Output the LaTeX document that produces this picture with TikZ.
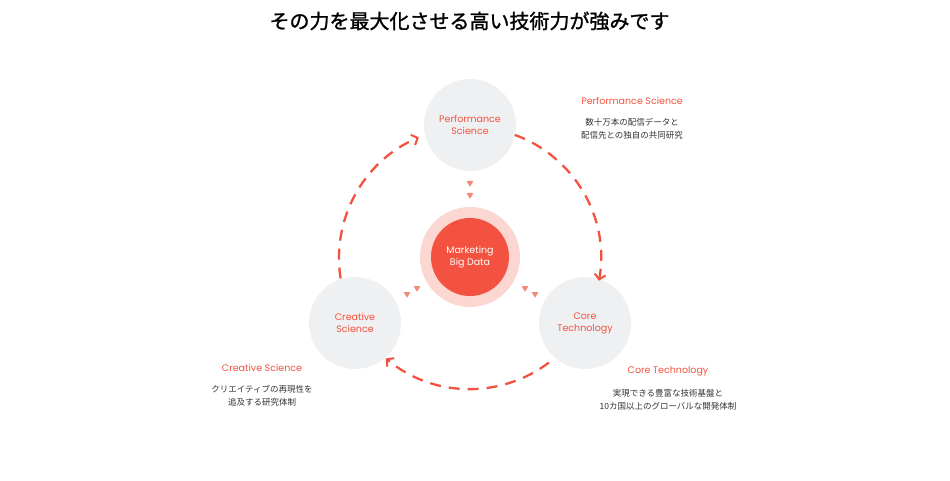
\documentclass[tikz,border=0pt]{standalone}
\usepackage{fontspec}
\setmainfont{Poppins}
\newfontfamily\jp{Noto Sans CJK JP}
\newfontfamily\jpt[FakeBold=1.2]{Noto Sans CJK JP}
\usetikzlibrary{arrows.meta,calc,shapes.geometric}
\definecolor{accent}{HTML}{F2523F}
\definecolor{ring}{HTML}{FCD6D0}
\definecolor{bub}{HTML}{EFF0F1}
\definecolor{txt}{HTML}{333333}
\definecolor{tri}{HTML}{F28A7C}
\tikzset{
  bubble/.style={circle, fill=bub, minimum size=92pt, inner sep=0pt, align=center, text=accent, font=\fontsize{9.5}{12}\selectfont},
  core/.style={circle, fill=accent, minimum size=78pt, inner sep=0pt, align=center, text=white, font=\fontsize{9.5}{12}\selectfont},
  halo/.style={circle, fill=ring, minimum size=100pt, inner sep=0pt},
  flow/.style={accent, line width=2.3pt, dash pattern=on 11pt off 8pt, -{Straight Barb[length=5pt,width=11pt,line width=2pt]}},
  heading/.style={text=accent, font=\fontsize{9.5}{12}\selectfont, inner sep=0pt},
  desc/.style={text=txt, align=center, font=\jp\fontsize{8.5}{13}\selectfont, inner sep=0pt},
  pip/.style={regular polygon, regular polygon sides=3, shape border rotate=180, fill=tri, minimum size=8pt, inner sep=0pt, rounded corners=0.8pt},
}
\begin{document}
\begin{tikzpicture}[x=1pt,y=-1pt]
\useasboundingbox (0,0) rectangle (950,481);
\node[font=\jpt\fontsize{20}{24}\selectfont, text=black, inner sep=0pt] (title) at (469.5,21) {その力を最大化させる高い技術力が強みです};

\coordinate (C) at (470,258);
\node[halo] (halo) at (470,257) {};
\node[core] (mbd) at (470,257) {Marketing\\Big Data};
\node[bubble] (perf) at (470,125) {Performance\\Science};
\node[bubble] (crea) at (355,323) {Creative\\Science};
\node[bubble] (tech) at (585,323) {Core\\Technology};

\node[pip] (p1) at (470,183) {};
\node[pip] (p2) at (470,195) {};
\node[pip] (p3) at (407,294) {};
\node[pip] (p4) at (417,288) {};
\node[pip] (p5) at (525,288) {};
\node[pip] (p6) at (535,294) {};

\coordinate (a1s) at ($(C)+(171:131)$);
\coordinate (a2s) at ($(C)+(290:131)$);
\coordinate (a3s) at ($(C)+(53:131)$);
\draw[flow] (a1s) arc[start angle=171, end angle=247, radius=131];
\draw[flow] (a2s) arc[start angle=290, end angle=370, radius=131];
\draw[flow] (a3s) arc[start angle=53, end angle=130, radius=131];

\node[heading] (hp) at (632,101) {Performance Science};
\node[desc] (dp) at (632,128.5) {数十万本の配信データと\\配信先との独自の共同研究};
\node[heading] (hc) at (262,368) {Creative Science};
\node[desc] (dc) at (262,395.5) {クリエイティブの再現性を\\追及する研究体制};
\node[heading] (ht) at (668,371) {Core Technology};
\node[desc] (dt) at (668,400) {実現できる豊富な技術基盤と\\10カ国以上のグローバルな開発体制};
\end{tikzpicture}
\end{document}
